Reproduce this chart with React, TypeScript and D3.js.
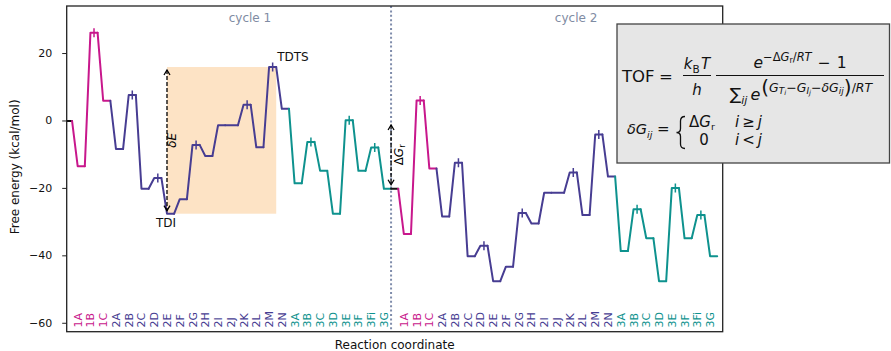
import React from "react";
import * as d3 from "d3";

// ---- data -------------------------------------------------------------
const stateLabels = [
  "1A", "1B", "1C",
  "2A", "2B", "2C", "2D", "2E", "2F", "2G", "2H", "2I", "2J", "2K", "2L", "2M", "2N",
  "3A", "3B", "3C", "3D", "3E", "3F", "3Fi", "3G",
];
const transitionStates = ["1B", "2B", "2D", "2G", "2K", "2M", "3B", "3E", "3Fi"];

const cycle1Start = 0;
const cycle1Energies = [
  -13.4, 26.2, 6.0,
  -8.3, 7.7, -20.1, -16.9, -27.5, -23.2, -7.1, -10.4, -1.3, -1.3, 4.8, -7.8, 16.0, 3.6,
  -18.5, -6.2, -14.8, -27.5, 0.2, -14.8, -7.9, -20.1,
];
const cycle2Start = -20.1;
const cycle2Energies = [
  -33.5, 6.1, -14.1,
  -28.3, -12.4, -40.1, -37.0, -47.5, -43.2, -27.3, -30.4, -21.3, -21.3, -15.3, -27.9, -4.0, -16.5,
  -38.6, -26.2, -34.8, -47.5, -19.9, -34.8, -27.9, -40.1,
];
const cycleNames = ["cycle 1", "cycle 2"];
const yTicks = [20, 0, -20, -40, -60];
const tdiLabel = "2E";
const tdtsLabel = "2M";

// ---- layout -----------------------------------------------------------
const W = 891;
const H = 351;
const plot = { left: 66.7, right: 722.7, top: 6, bottom: 331.7 };
const segW = 0.56; // width of each level in reaction-coordinate units
const FONT = "'DejaVu Sans', sans-serif";

const groupColor: Record<string, string> = {
  "1": "#c8178c",
  "2": "#473d92",
  "3": "#0e928e",
};

const x = d3.scaleLinear().domain([0.14, 51.55]).range([plot.left, plot.right]);
const y = d3.scaleLinear().domain([-62.5, 34.1]).range([plot.bottom, plot.top]);

type Pt = { pos: number; energy: number; color: string; label: string | null; ts: boolean };

const cycles = [
  { start: cycle1Start, energies: cycle1Energies },
  { start: cycle2Start, energies: cycle2Energies },
];
const cycleOffsets = cycles.map((_, c) => c * (stateLabels.length + segW));

const cyclePoints: Pt[][] = cycles.map((cyc, c) => {
  const off = cycleOffsets[c];
  const pts: Pt[] = [{ pos: off, energy: cyc.start, color: "#111", label: null, ts: false }];
  stateLabels.forEach((lab, i) => {
    pts.push({
      pos: off + i + 1,
      energy: cyc.energies[i],
      color: groupColor[lab[0]],
      label: lab,
      ts: transitionStates.includes(lab),
    });
  });
  return pts;
});

const line = d3
  .line<[number, number]>()
  .x((d) => x(d[0]))
  .y((d) => y(d[1]));

// ---- math text helper ---------------------------------------------------
type Run = { t: string; s?: number; i?: boolean; b?: number; dx?: number };
function MathText(props: { x: number; y: number; size: number; runs: Run[]; anchor?: string }) {
  let prev = 0;
  return (
    <text
      x={props.x}
      y={props.y}
      fontSize={props.size}
      textAnchor={props.anchor ?? "start"}
      fontFamily={FONT}
      fill="#111"
    >
      {props.runs.map((r, k) => {
        const b = r.b ?? 0;
        const dy = b - prev;
        prev = b;
        return (
          <tspan
            key={k}
            dy={dy !== 0 ? dy : undefined}
            dx={r.dx}
            fontSize={r.s}
            fontStyle={r.i ? "italic" : undefined}
          >
            {r.t}
          </tspan>
        );
      })}
    </text>
  );
}

function Chevron({ px, py, dir }: { px: number; py: number; dir: 1 | -1 }) {
  // dir = -1: tip pointing up, dir = 1: tip pointing down
  const back = -dir * 5;
  return (
    <path
      d={`M${px - 3},${py + back} L${px},${py} L${px + 3},${py + back}`}
      fill="none"
      stroke="#000"
      strokeWidth={1.3}
    />
  );
}

export default function App() {
  const c1 = cyclePoints[0];
  const tdi = c1.find((p) => p.label === tdiLabel)!;
  const tdts = c1.find((p) => p.label === tdtsLabel)!;

  const arrowX = x(tdi.pos);
  const dEtop = y(tdts.energy) + 3;
  const dEbot = y(tdi.energy) - 3;

  const grX = x(cycleOffsets[1]);
  const grTop = y(cycle1Start) + 4;
  const grBot = y(cycle2Start) - 4;

  return (
    <div style={{ position: "absolute", left: 0, top: 0 }}>
      <svg width={W} height={H} style={{ display: "block", background: "#fff" }}>
        <defs>
          <clipPath id="plotArea">
            <rect x={plot.left} y={plot.top} width={plot.right - plot.left} height={plot.bottom - plot.top} />
          </clipPath>
        </defs>

        {/* shaded span between TDI and TDTS */}
        <rect
          x={x(tdi.pos)}
          y={y(tdts.energy)}
          width={x(tdts.pos + segW) - x(tdi.pos)}
          height={y(tdi.energy) - y(tdts.energy)}
          fill="#fde3c5"
        />

        {/* cycle separator */}
        <line
          x1={grX}
          x2={grX}
          y1={plot.top}
          y2={plot.bottom}
          stroke="#7f8cab"
          strokeWidth={2}
          strokeDasharray="2 2.4"
        />

        {/* energy profile */}
        <g clipPath="url(#plotArea)" fill="none" strokeWidth={2} strokeLinejoin="round" strokeLinecap="round">
          {cyclePoints.map((pts, c) =>
            pts.map((p, k) => {
              const coords: [number, number][] =
                k === 0
                  ? [[p.pos, p.energy], [p.pos + segW, p.energy]]
                  : [
                      [pts[k - 1].pos + segW, pts[k - 1].energy],
                      [p.pos, p.energy],
                      [p.pos + segW, p.energy],
                    ];
              return <path key={`${c}-${k}`} d={line(coords) ?? ""} stroke={p.color} />;
            })
          )}
          {cyclePoints.map((pts, c) =>
            pts
              .filter((p) => p.ts)
              .map((p, k) => {
                const cx = x(p.pos + segW / 2);
                const cy = y(p.energy);
                return (
                  <line
                    key={`ts-${c}-${k}`}
                    x1={cx}
                    x2={cx}
                    y1={cy - 4.5}
                    y2={cy + 4.5}
                    stroke={p.color}
                    strokeWidth={1.5}
                    strokeLinecap="butt"
                  />
                );
              })
          )}
        </g>

        {/* state labels along the bottom */}
        {cyclePoints.map((pts, c) =>
          pts
            .filter((p) => p.label)
            .map((p, k) => {
              const lx = x(p.pos + 0.04);
              const ly = 327.5;
              return (
                <text
                  key={`lab-${c}-${k}`}
                  transform={`translate(${lx},${ly}) rotate(-90)`}
                  fontSize={11}
                  fontFamily={FONT}
                  dominantBaseline="central"
                  fill={p.color}
                >
                  {p.label}
                </text>
              );
            })
        )}

        {/* cycle titles */}
        {cycleNames.map((name, c) => (
          <text
            key={name}
            x={x(cycleOffsets[c] + 14.5)}
            y={22}
            textAnchor="middle"
            fontSize={12}
            fontFamily={FONT}
            fill="#7f8ca3"
          >
            {name}
          </text>
        ))}

        {/* delta E arrow */}
        <line x1={arrowX} x2={arrowX} y1={dEtop} y2={dEbot} stroke="#000" strokeWidth={1.3} strokeDasharray="4 2" />
        <Chevron px={arrowX} py={dEtop} dir={-1} />
        <Chevron px={arrowX} py={dEbot} dir={1} />
        <text
          transform={`translate(${arrowX + 5},${(dEtop + dEbot) / 2}) rotate(-90)`}
          textAnchor="middle"
          dominantBaseline="central"
          fontSize={12}
          fontFamily={FONT}
          fontStyle="italic"
        >
          δE
        </text>

        {/* delta G_r arrow */}
        <line x1={grX} x2={grX} y1={grTop} y2={grBot} stroke="#000" strokeWidth={1.3} strokeDasharray="4 2" />
        <Chevron px={grX} py={grTop} dir={-1} />
        <Chevron px={grX} py={grBot} dir={1} />
        <text
          transform={`translate(${grX + 8},${(grTop + grBot) / 2}) rotate(-90)`}
          textAnchor="middle"
          dominantBaseline="central"
          fontSize={12}
          fontFamily={FONT}
        >
          <tspan>Δ</tspan>
          <tspan fontStyle="italic">G</tspan>
          <tspan fontSize={8.5} dy={3}>r</tspan>
        </text>

        {/* TDI / TDTS labels */}
        <text x={x(tdi.pos) - 1} y={227} textAnchor="middle" fontSize={12} fontFamily={FONT} fill="#111">
          TDI
        </text>
        <text x={x(tdts.pos + segW) + 1} y={61} fontSize={12} fontFamily={FONT} fill="#111">
          TDTS
        </text>

        {/* axes frame */}
        <rect
          x={plot.left}
          y={plot.top}
          width={plot.right - plot.left}
          height={plot.bottom - plot.top}
          fill="none"
          stroke="#222"
          strokeWidth={1.3}
        />

        {/* y axis */}
        {yTicks.map((t) => (
          <g key={t}>
            <line x1={plot.left - 4.5} x2={plot.left} y1={y(t)} y2={y(t)} stroke="#222" strokeWidth={1} />
            <text
              x={plot.left - 14.5}
              y={y(t)}
              textAnchor="end"
              dominantBaseline="central"
              fontSize={11}
              fontFamily={FONT}
              fill="#111"
            >
              {t < 0 ? `\u2212${Math.abs(t)}` : `${t}`}
            </text>
          </g>
        ))}
        <text
          transform={`translate(14.5,${(plot.top + plot.bottom) / 2 - 2}) rotate(-90)`}
          textAnchor="middle"
          dominantBaseline="central"
          fontSize={12}
          fontFamily={FONT}
          fill="#111"
        >
          Free energy (kcal/mol)
        </text>
        <text
          x={(plot.left + plot.right) / 2}
          y={349}
          textAnchor="middle"
          fontSize={12}
          fontFamily={FONT}
          fill="#111"
        >
          Reaction coordinate
        </text>

        {/* TOF formula box */}
        <rect x={617} y={24} width={272.5} height={139} fill="#e6e6e6" stroke="#444" strokeWidth={1.3} />
        <MathText x={622} y={82} size={16.5} runs={[{ t: "TOF" }]} />
        <MathText x={659} y={82} size={16.5} runs={[{ t: "=" }]} />
        <MathText
          x={697}
          y={69}
          size={15}
          anchor="middle"
          runs={[
            { t: "k", i: true },
            { t: "B", s: 10.5, b: 3.5 },
            { t: "T", i: true, b: 0, dx: 1.5 },
          ]}
        />
        <line x1={683} x2={711} y1={75.5} y2={75.5} stroke="#111" strokeWidth={1} />
        <MathText x={697} y={95} size={15} anchor="middle" runs={[{ t: "h", i: true }]} />

        <MathText
          x={800}
          y={68}
          size={15.5}
          anchor="middle"
          runs={[
            { t: "e", i: true },
            { t: "\u2212\u0394", s: 11.5, b: -7.5 },
            { t: "G", s: 11.5, i: true, b: -7.5 },
            { t: "r", s: 8, b: -5.5 },
            { t: "/", s: 11.5, b: -7.5 },
            { t: "RT", s: 11.5, i: true, b: -7.5 },
            { t: "\u2212", b: 0, dx: 6 },
            { t: "1", dx: 6 },
          ]}
        />
        <line x1={716} x2={884} y1={75.5} y2={75.5} stroke="#111" strokeWidth={1} />
        <MathText
          x={801}
          y={100}
          size={16}
          anchor="middle"
          runs={[
            { t: "\u2211", s: 17 },
            { t: "ij", s: 11, i: true, b: 4 },
            { t: "e", i: true, b: 0, dx: 3 },
            { t: "(", s: 20, b: -6, dx: 1 },
            { t: "G", s: 12.5, i: true, b: -8.5 },
            { t: "T", s: 9, i: true, b: -6.5 },
            { t: "i", s: 7, i: true, b: -5 },
            { t: "\u2212", s: 12.5, b: -8.5 },
            { t: "G", s: 12.5, i: true, b: -8.5 },
            { t: "I", s: 9, i: true, b: -6.5 },
            { t: "j", s: 7, i: true, b: -5 },
            { t: "\u2212", s: 12.5, b: -8.5 },
            { t: "\u03b4G", s: 12.5, i: true, b: -8.5 },
            { t: "ij", s: 9, i: true, b: -6.5 },
            { t: ")", s: 20, b: -6 },
            { t: "/", s: 12.5, b: -8.5 },
            { t: "RT", s: 12.5, i: true, b: -8.5 },
          ]}
        />

        <MathText
          x={627}
          y={134}
          size={14.5}
          runs={[
            { t: "\u03b4G", i: true },
            { t: "ij", s: 9.5, i: true, b: 3.5 },
          ]}
        />
        <MathText x={657} y={134} size={15} runs={[{ t: "=" }]} />
        {/* left brace of the piecewise definition */}
        <path
          d="M685,116.5 Q680.5,116.5 680.5,121 L680.5,128.5 Q680.5,132.5 676.5,132.5 Q680.5,132.5 680.5,136.5 L680.5,144 Q680.5,148.5 685,148.5"
          fill="none"
          stroke="#111"
          strokeWidth={1.3}
        />
        <MathText
          x={689}
          y={127}
          size={15}
          runs={[
            { t: "\u0394" },
            { t: "G", i: true },
            { t: "r", s: 9.5, b: 3 },
          ]}
        />
        <MathText
          x={735}
          y={127}
          size={15}
          runs={[
            { t: "i", i: true },
            { t: "\u2265", dx: 3 },
            { t: "j", i: true, dx: 3 },
          ]}
        />
        <MathText x={704} y={145} size={15} anchor="middle" runs={[{ t: "0" }]} />
        <MathText
          x={735}
          y={145}
          size={15}
          runs={[
            { t: "i", i: true },
            { t: "<", dx: 3 },
            { t: "j", i: true, dx: 3 },
          ]}
        />
      </svg>
    </div>
  );
}
